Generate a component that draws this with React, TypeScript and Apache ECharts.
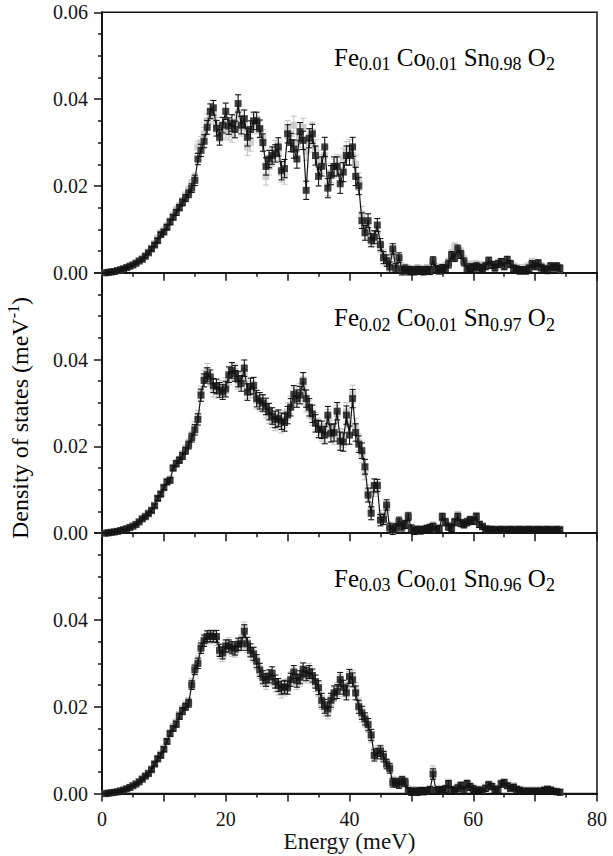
import React, { useEffect, useRef } from "react";
import * as echarts from "echarts";

const energy = [
  0.5, 1, 1.5, 2, 2.5, 3, 3.5, 4, 4.5, 5,
  5.5, 6, 6.5, 7, 7.5, 8, 8.5, 9, 9.5, 10,
  10.5, 11, 11.5, 12, 12.5, 13, 13.5, 14, 14.5, 15,
  15.5, 16, 16.5, 17, 17.5, 18, 18.5, 19, 19.5, 20,
  20.5, 21, 21.5, 22, 22.5, 23, 23.5, 24, 24.5, 25,
  25.5, 26, 26.5, 27, 27.5, 28, 28.5, 29, 29.5, 30,
  30.5, 31, 31.5, 32, 32.5, 33, 33.5, 34, 34.5, 35,
  35.5, 36, 36.5, 37, 37.5, 38, 38.5, 39, 39.5, 40,
  40.5, 41, 41.5, 42, 42.5, 43, 43.5, 44, 44.5, 45,
  45.5, 46, 46.5, 47, 47.5, 48, 48.5, 49, 49.5, 50,
  50.5, 51, 51.5, 52, 52.5, 53, 53.5, 54, 54.5, 55,
  55.5, 56, 56.5, 57, 57.5, 58, 58.5, 59, 59.5, 60,
  60.5, 61, 61.5, 62, 62.5, 63, 63.5, 64, 64.5, 65,
  65.5, 66, 66.5, 67, 67.5, 68, 68.5, 69, 69.5, 70,
  70.5, 71, 71.5, 72, 72.5, 73, 73.5, 74,
];

// Fe0.01 Co0.01 Sn0.98 O2
const blackA = [
  0.0000, 0.0001, 0.0002, 0.0003, 0.0005, 0.0007, 0.0009, 0.0012, 0.0015, 0.0018,
  0.0022, 0.0027, 0.0031, 0.0038, 0.0046, 0.0055, 0.0064, 0.0074, 0.0088, 0.0094,
  0.0105, 0.0117, 0.0128, 0.0139, 0.0150, 0.0162, 0.0172, 0.0182, 0.0195, 0.0213,
  0.0262, 0.0282, 0.0303, 0.0335, 0.0372, 0.0380, 0.0333, 0.0312, 0.0340, 0.0372,
  0.0338, 0.0345, 0.0330, 0.0390, 0.0340, 0.0355, 0.0312, 0.0330, 0.0350, 0.0350,
  0.0332, 0.0300, 0.0245, 0.0262, 0.0270, 0.0275, 0.0290, 0.0235, 0.0240, 0.0320,
  0.0300, 0.0285, 0.0262, 0.0325, 0.0305, 0.0190, 0.0310, 0.0320, 0.0270, 0.0222,
  0.0245, 0.0290, 0.0195, 0.0225, 0.0245, 0.0245, 0.0205, 0.0232, 0.0270, 0.0270,
  0.0290, 0.0222, 0.0200, 0.0120, 0.0092, 0.0120, 0.0075, 0.0082, 0.0110, 0.0065,
  0.0035, 0.0028, 0.0013, 0.0055, 0.0010, 0.0035, 0.0005, 0.0008, 0.0005, 0.0005,
  0.0004, 0.0006, 0.0005, 0.0004, 0.0006, 0.0005, 0.0028, 0.0008, 0.0006, 0.0010,
  0.0008, 0.0020, 0.0040, 0.0035, 0.0055, 0.0042, 0.0025, 0.0008, 0.0012, 0.0010,
  0.0015, 0.0012, 0.0010, 0.0015, 0.0028, 0.0018, 0.0012, 0.0020, 0.0025, 0.0015,
  0.0030, 0.0020, 0.0010, 0.0008, 0.0005, 0.0006, 0.0005, 0.0010, 0.0020, 0.0015,
  0.0022, 0.0012, 0.0008, 0.0006, 0.0015, 0.0012, 0.0015, 0.0010,
];
const greyA = [
  0.0000, 0.0001, 0.0002, 0.0003, 0.0005, 0.0007, 0.0010, 0.0012, 0.0016, 0.0019,
  0.0023, 0.0028, 0.0033, 0.0040, 0.0048, 0.0057, 0.0067, 0.0080, 0.0092, 0.0098,
  0.0108, 0.0120, 0.0133, 0.0145, 0.0155, 0.0165, 0.0178, 0.0190, 0.0205, 0.0218,
  0.0290, 0.0300, 0.0320, 0.0350, 0.0360, 0.0365, 0.0340, 0.0320, 0.0325, 0.0330,
  0.0325, 0.0320, 0.0345, 0.0370, 0.0335, 0.0340, 0.0290, 0.0300, 0.0345, 0.0340,
  0.0330, 0.0310, 0.0222, 0.0245, 0.0265, 0.0285, 0.0280, 0.0230, 0.0225, 0.0330,
  0.0320, 0.0340, 0.0300, 0.0310, 0.0335, 0.0280, 0.0300, 0.0325, 0.0285, 0.0260,
  0.0250, 0.0270, 0.0200, 0.0230, 0.0240, 0.0250, 0.0230, 0.0265, 0.0280, 0.0285,
  0.0270, 0.0250, 0.0210, 0.0135, 0.0105, 0.0095, 0.0080, 0.0075, 0.0090, 0.0060,
  0.0040, 0.0030, 0.0020, 0.0045, 0.0015, 0.0030, 0.0012, 0.0010, 0.0008, 0.0006,
  0.0008, 0.0010, 0.0008, 0.0006, 0.0010, 0.0008, 0.0020, 0.0012, 0.0008, 0.0012,
  0.0015, 0.0025, 0.0045, 0.0060, 0.0050, 0.0048, 0.0030, 0.0015, 0.0018, 0.0015,
  0.0020, 0.0018, 0.0015, 0.0018, 0.0022, 0.0020, 0.0018, 0.0022, 0.0020, 0.0020,
  0.0025, 0.0022, 0.0015, 0.0012, 0.0010, 0.0010, 0.0012, 0.0015, 0.0025, 0.0020,
  0.0018, 0.0015, 0.0012, 0.0010, 0.0012, 0.0015, 0.0012, 0.0010,
];
const errA = [
  0.0001, 0.0001, 0.0001, 0.0001, 0.0001, 0.0001, 0.0001, 0.0001, 0.0001, 0.0001,
  0.0002, 0.0002, 0.0003, 0.0003, 0.0003, 0.0004, 0.0004, 0.0005, 0.0005, 0.0005,
  0.0006, 0.0006, 0.0006, 0.0007, 0.0007, 0.0008, 0.0008, 0.0009, 0.0010, 0.0012,
  0.0013, 0.0014, 0.0015, 0.0016, 0.0017, 0.0017, 0.0018, 0.0018, 0.0018, 0.0019,
  0.0019, 0.0019, 0.0019, 0.0020, 0.0020, 0.0020, 0.0020, 0.0020, 0.0020, 0.0020,
  0.0020, 0.0020, 0.0020, 0.0020, 0.0020, 0.0020, 0.0021, 0.0021, 0.0021, 0.0021,
  0.0021, 0.0021, 0.0021, 0.0021, 0.0021, 0.0021, 0.0022, 0.0022, 0.0022, 0.0022,
  0.0022, 0.0022, 0.0022, 0.0022, 0.0022, 0.0022, 0.0022, 0.0022, 0.0022, 0.0022,
  0.0022, 0.0021, 0.0020, 0.0018, 0.0017, 0.0016, 0.0015, 0.0015, 0.0015, 0.0014,
  0.0014, 0.0013, 0.0012, 0.0012, 0.0011, 0.0011, 0.0010, 0.0010, 0.0010, 0.0009,
  0.0009, 0.0009, 0.0009, 0.0009, 0.0009, 0.0009, 0.0009, 0.0009, 0.0009, 0.0009,
  0.0009, 0.0009, 0.0009, 0.0009, 0.0009, 0.0009, 0.0009, 0.0009, 0.0009, 0.0009,
  0.0008, 0.0008, 0.0008, 0.0008, 0.0008, 0.0008, 0.0008, 0.0008, 0.0008, 0.0008,
  0.0008, 0.0008, 0.0008, 0.0008, 0.0008, 0.0008, 0.0008, 0.0008, 0.0008, 0.0008,
  0.0008, 0.0008, 0.0008, 0.0008, 0.0008, 0.0008, 0.0008, 0.0008,
];

// Fe0.02 Co0.01 Sn0.97 O2
const blackB = [
  0.0000, 0.0001, 0.0002, 0.0003, 0.0004, 0.0006, 0.0008, 0.0010, 0.0013, 0.0016,
  0.0020, 0.0026, 0.0033, 0.0038, 0.0045, 0.0052, 0.0063, 0.0080, 0.0090, 0.0105,
  0.0118, 0.0122, 0.0150, 0.0160, 0.0168, 0.0178, 0.0190, 0.0203, 0.0220, 0.0238,
  0.0262, 0.0318, 0.0352, 0.0365, 0.0360, 0.0340, 0.0338, 0.0330, 0.0325, 0.0332,
  0.0365, 0.0375, 0.0368, 0.0355, 0.0345, 0.0380, 0.0325, 0.0338, 0.0340, 0.0310,
  0.0305, 0.0300, 0.0292, 0.0280, 0.0270, 0.0262, 0.0265, 0.0258, 0.0255, 0.0272,
  0.0290, 0.0320, 0.0310, 0.0318, 0.0350, 0.0310, 0.0290, 0.0275, 0.0253, 0.0240,
  0.0238, 0.0226, 0.0272, 0.0230, 0.0232, 0.0281, 0.0212, 0.0210, 0.0272, 0.0226,
  0.0310, 0.0232, 0.0205, 0.0190, 0.0153, 0.0088, 0.0046, 0.0110, 0.0110, 0.0030,
  0.0032, 0.0065, 0.0012, 0.0008, 0.0012, 0.0027, 0.0015, 0.0020, 0.0038, 0.0010,
  0.0005, 0.0008, 0.0006, 0.0008, 0.0010, 0.0012, 0.0015, 0.0008, 0.0010, 0.0038,
  0.0025, 0.0015, 0.0012, 0.0025, 0.0038, 0.0023, 0.0020, 0.0025, 0.0030, 0.0028,
  0.0038, 0.0020, 0.0015, 0.0010, 0.0009, 0.0009, 0.0008, 0.0008, 0.0009, 0.0008,
  0.0008, 0.0009, 0.0008, 0.0008, 0.0009, 0.0008, 0.0008, 0.0009, 0.0008, 0.0008,
  0.0009, 0.0008, 0.0008, 0.0009, 0.0008, 0.0008, 0.0009, 0.0008,
];
const greyB = [
  0.0000, 0.0001, 0.0002, 0.0003, 0.0005, 0.0007, 0.0009, 0.0011, 0.0014, 0.0017,
  0.0021, 0.0027, 0.0034, 0.0040, 0.0047, 0.0055, 0.0065, 0.0082, 0.0092, 0.0108,
  0.0120, 0.0125, 0.0152, 0.0162, 0.0170, 0.0182, 0.0195, 0.0208, 0.0225, 0.0245,
  0.0270, 0.0325, 0.0360, 0.0375, 0.0355, 0.0330, 0.0328, 0.0335, 0.0330, 0.0340,
  0.0360, 0.0368, 0.0372, 0.0350, 0.0352, 0.0370, 0.0330, 0.0332, 0.0330, 0.0305,
  0.0300, 0.0298, 0.0285, 0.0272, 0.0262, 0.0255, 0.0262, 0.0250, 0.0262, 0.0280,
  0.0295, 0.0315, 0.0320, 0.0325, 0.0340, 0.0300, 0.0285, 0.0268, 0.0258, 0.0245,
  0.0232, 0.0230, 0.0265, 0.0240, 0.0225, 0.0275, 0.0220, 0.0218, 0.0280, 0.0250,
  0.0320, 0.0245, 0.0210, 0.0180, 0.0140, 0.0095, 0.0055, 0.0100, 0.0105, 0.0040,
  0.0035, 0.0060, 0.0015, 0.0010, 0.0015, 0.0025, 0.0018, 0.0022, 0.0040, 0.0012,
  0.0008, 0.0010, 0.0008, 0.0010, 0.0012, 0.0015, 0.0018, 0.0010, 0.0012, 0.0035,
  0.0028, 0.0018, 0.0015, 0.0028, 0.0042, 0.0025, 0.0022, 0.0028, 0.0032, 0.0030,
  0.0040, 0.0022, 0.0018, 0.0012, 0.0010, 0.0010, 0.0010, 0.0010, 0.0010, 0.0010,
  0.0010, 0.0010, 0.0010, 0.0010, 0.0010, 0.0010, 0.0010, 0.0010, 0.0010, 0.0010,
  0.0010, 0.0010, 0.0010, 0.0010, 0.0010, 0.0010, 0.0010, 0.0010,
];
const errB = [
  0.0001, 0.0001, 0.0001, 0.0001, 0.0001, 0.0001, 0.0001, 0.0001, 0.0001, 0.0001,
  0.0002, 0.0002, 0.0003, 0.0003, 0.0003, 0.0004, 0.0004, 0.0005, 0.0005, 0.0005,
  0.0006, 0.0006, 0.0006, 0.0007, 0.0007, 0.0008, 0.0008, 0.0009, 0.0010, 0.0012,
  0.0013, 0.0014, 0.0015, 0.0016, 0.0016, 0.0016, 0.0017, 0.0017, 0.0017, 0.0018,
  0.0018, 0.0018, 0.0018, 0.0018, 0.0018, 0.0019, 0.0019, 0.0019, 0.0019, 0.0019,
  0.0019, 0.0019, 0.0019, 0.0019, 0.0019, 0.0019, 0.0019, 0.0019, 0.0020, 0.0020,
  0.0020, 0.0020, 0.0020, 0.0020, 0.0020, 0.0020, 0.0020, 0.0020, 0.0020, 0.0020,
  0.0020, 0.0020, 0.0020, 0.0020, 0.0020, 0.0020, 0.0021, 0.0021, 0.0021, 0.0021,
  0.0021, 0.0020, 0.0019, 0.0018, 0.0017, 0.0016, 0.0015, 0.0015, 0.0014, 0.0013,
  0.0012, 0.0012, 0.0011, 0.0011, 0.0010, 0.0010, 0.0010, 0.0009, 0.0009, 0.0009,
  0.0008, 0.0008, 0.0008, 0.0008, 0.0008, 0.0008, 0.0008, 0.0008, 0.0008, 0.0008,
  0.0008, 0.0008, 0.0008, 0.0008, 0.0008, 0.0008, 0.0008, 0.0008, 0.0008, 0.0008,
  0.0008, 0.0007, 0.0006, 0.0005, 0.0004, 0.0004, 0.0004, 0.0004, 0.0004, 0.0004,
  0.0004, 0.0004, 0.0004, 0.0004, 0.0004, 0.0004, 0.0004, 0.0004, 0.0004, 0.0004,
  0.0004, 0.0004, 0.0004, 0.0004, 0.0004, 0.0004, 0.0004, 0.0004,
];

// Fe0.03 Co0.01 Sn0.96 O2
const blackC = [
  0.0000, 0.0001, 0.0002, 0.0003, 0.0004, 0.0006, 0.0008, 0.0011, 0.0014, 0.0018,
  0.0022, 0.0027, 0.0033, 0.0040, 0.0046, 0.0055, 0.0068, 0.0080, 0.0088, 0.0102,
  0.0120, 0.0138, 0.0150, 0.0160, 0.0178, 0.0190, 0.0200, 0.0208, 0.0250, 0.0285,
  0.0300, 0.0335, 0.0352, 0.0362, 0.0363, 0.0362, 0.0362, 0.0330, 0.0324, 0.0340,
  0.0340, 0.0336, 0.0333, 0.0344, 0.0345, 0.0374, 0.0345, 0.0330, 0.0322, 0.0305,
  0.0285, 0.0268, 0.0262, 0.0270, 0.0277, 0.0258, 0.0250, 0.0244, 0.0246, 0.0244,
  0.0262, 0.0280, 0.0260, 0.0268, 0.0286, 0.0275, 0.0280, 0.0272, 0.0258, 0.0244,
  0.0215, 0.0201, 0.0195, 0.0215, 0.0232, 0.0235, 0.0263, 0.0245, 0.0232, 0.0270,
  0.0262, 0.0232, 0.0200, 0.0186, 0.0172, 0.0159, 0.0135, 0.0088, 0.0092, 0.0098,
  0.0085, 0.0068, 0.0058, 0.0025, 0.0025, 0.0022, 0.0030, 0.0025, 0.0006, 0.0004,
  0.0005, 0.0004, 0.0006, 0.0005, 0.0006, 0.0008, 0.0045, 0.0006, 0.0008, 0.0008,
  0.0010, 0.0022, 0.0008, 0.0006, 0.0012, 0.0018, 0.0008, 0.0022, 0.0015, 0.0010,
  0.0006, 0.0008, 0.0005, 0.0012, 0.0020, 0.0016, 0.0010, 0.0008, 0.0022, 0.0025,
  0.0018, 0.0012, 0.0015, 0.0010, 0.0008, 0.0006, 0.0005, 0.0006, 0.0005, 0.0006,
  0.0005, 0.0006, 0.0008, 0.0010, 0.0008, 0.0005, 0.0004, 0.0003,
];
const greyC = [
  0.0000, 0.0001, 0.0002, 0.0003, 0.0005, 0.0007, 0.0009, 0.0012, 0.0015, 0.0019,
  0.0023, 0.0028, 0.0035, 0.0042, 0.0048, 0.0058, 0.0070, 0.0082, 0.0092, 0.0105,
  0.0122, 0.0140, 0.0155, 0.0165, 0.0182, 0.0195, 0.0205, 0.0212, 0.0255, 0.0290,
  0.0305, 0.0340, 0.0355, 0.0360, 0.0358, 0.0360, 0.0355, 0.0325, 0.0318, 0.0335,
  0.0345, 0.0330, 0.0328, 0.0340, 0.0350, 0.0380, 0.0340, 0.0322, 0.0318, 0.0300,
  0.0280, 0.0262, 0.0255, 0.0265, 0.0270, 0.0250, 0.0242, 0.0235, 0.0240, 0.0250,
  0.0265, 0.0275, 0.0255, 0.0262, 0.0280, 0.0270, 0.0285, 0.0268, 0.0250, 0.0240,
  0.0210, 0.0195, 0.0188, 0.0210, 0.0228, 0.0240, 0.0258, 0.0240, 0.0238, 0.0265,
  0.0268, 0.0240, 0.0205, 0.0180, 0.0168, 0.0155, 0.0130, 0.0092, 0.0098, 0.0100,
  0.0088, 0.0070, 0.0060, 0.0030, 0.0028, 0.0025, 0.0032, 0.0028, 0.0010, 0.0008,
  0.0008, 0.0006, 0.0008, 0.0008, 0.0008, 0.0010, 0.0052, 0.0010, 0.0010, 0.0010,
  0.0012, 0.0025, 0.0010, 0.0010, 0.0015, 0.0020, 0.0012, 0.0025, 0.0018, 0.0012,
  0.0010, 0.0010, 0.0008, 0.0015, 0.0022, 0.0018, 0.0012, 0.0012, 0.0025, 0.0028,
  0.0020, 0.0015, 0.0018, 0.0012, 0.0010, 0.0008, 0.0008, 0.0008, 0.0008, 0.0008,
  0.0008, 0.0008, 0.0010, 0.0012, 0.0010, 0.0008, 0.0006, 0.0005,
];
const errC = [
  0.0001, 0.0001, 0.0001, 0.0001, 0.0001, 0.0001, 0.0001, 0.0001, 0.0001, 0.0001,
  0.0002, 0.0002, 0.0003, 0.0003, 0.0003, 0.0004, 0.0004, 0.0005, 0.0005, 0.0005,
  0.0006, 0.0006, 0.0006, 0.0007, 0.0007, 0.0008, 0.0008, 0.0009, 0.0010, 0.0011,
  0.0012, 0.0012, 0.0013, 0.0013, 0.0013, 0.0013, 0.0014, 0.0014, 0.0014, 0.0014,
  0.0014, 0.0014, 0.0014, 0.0014, 0.0015, 0.0015, 0.0015, 0.0015, 0.0015, 0.0015,
  0.0015, 0.0015, 0.0015, 0.0015, 0.0015, 0.0015, 0.0015, 0.0015, 0.0015, 0.0015,
  0.0015, 0.0015, 0.0015, 0.0015, 0.0015, 0.0015, 0.0015, 0.0015, 0.0015, 0.0016,
  0.0016, 0.0016, 0.0016, 0.0016, 0.0016, 0.0016, 0.0016, 0.0016, 0.0016, 0.0016,
  0.0016, 0.0016, 0.0015, 0.0015, 0.0014, 0.0014, 0.0013, 0.0013, 0.0012, 0.0012,
  0.0012, 0.0011, 0.0011, 0.0010, 0.0010, 0.0010, 0.0009, 0.0009, 0.0008, 0.0008,
  0.0008, 0.0008, 0.0008, 0.0008, 0.0008, 0.0008, 0.0012, 0.0008, 0.0008, 0.0008,
  0.0008, 0.0008, 0.0008, 0.0008, 0.0008, 0.0008, 0.0008, 0.0008, 0.0008, 0.0008,
  0.0007, 0.0007, 0.0007, 0.0007, 0.0007, 0.0007, 0.0007, 0.0007, 0.0007, 0.0007,
  0.0006, 0.0006, 0.0006, 0.0006, 0.0006, 0.0006, 0.0006, 0.0006, 0.0006, 0.0006,
  0.0006, 0.0006, 0.0006, 0.0006, 0.0006, 0.0006, 0.0006, 0.0006,
];

const fractions = [
  ["0.01", "0.01", "0.98"],
  ["0.02", "0.01", "0.97"],
  ["0.03", "0.01", "0.96"],
];
const xTicks = { min: 0, max: 80, interval: 10 };
const yTicks = { min: 0, max: 0.06, interval: 0.02 };

const FONT = "'Liberation Serif', 'Times New Roman', serif";
const INK = "#141414";
const GREY = "#c6c6c6";

const gridTops = [12.3, 272.7, 533.1];
const gridH = 260.5;

function errRender(color: string) {
  return (params: any, api: any) => {
    const x = api.value(0);
    const lo = api.value(1);
    const hi = api.value(2);
    const p1 = api.coord([x, hi]);
    const p2 = api.coord([x, lo]);
    const w = 3;
    const style = { stroke: color, lineWidth: 1.1 };
    return {
      type: "group",
      children: [
        { type: "line", shape: { x1: p1[0], y1: p1[1], x2: p2[0], y2: p2[1] }, style },
        { type: "line", shape: { x1: p1[0] - w, y1: p1[1], x2: p1[0] + w, y2: p1[1] }, style },
        { type: "line", shape: { x1: p2[0] - w, y1: p2[1], x2: p2[0] + w, y2: p2[1] }, style },
      ],
    };
  };
}

export default function App() {
  const ref = useRef<HTMLDivElement>(null);
  useEffect(() => {
    const chart = echarts.init(ref.current!, null, { renderer: "svg" });
    const panels = [
      { black: blackA, grey: greyA, err: errA },
      { black: blackB, grey: greyB, err: errB },
      { black: blackC, grey: greyC, err: errC },
    ];

    const grids = gridTops.map((t) => ({
      left: 102,
      width: 495,
      top: t,
      height: gridH,
      show: true,
      borderColor: INK,
      borderWidth: 1.5,
      backgroundColor: "transparent",
    }));

    const xAxes = gridTops.map((_, i) => ({
      type: "value",
      gridIndex: i,
      min: xTicks.min,
      max: xTicks.max,
      interval: xTicks.interval,
      axisLine: { show: true, onZero: false, lineStyle: { color: INK, width: 2 } },
      axisTick: { show: true, length: 8, lineStyle: { color: INK, width: 1.5 } },
      minorTick: { show: true, splitNumber: 2, length: 4, lineStyle: { color: INK, width: 1.5 } },
      splitLine: { show: false },
      axisLabel: {
        show: i === 2,
        margin: 15,
        fontFamily: FONT,
        fontSize: 20,
        color: INK,
        formatter: (v: number) => (v % 20 === 0 ? String(v) : ""),
      },
      name: i === 2 ? "Energy (meV)" : "",
      nameLocation: "middle",
      nameGap: 33,
      nameTextStyle: { fontFamily: FONT, fontSize: 23, color: INK },
    }));

    const yAxes = gridTops.map((_, i) => ({
      type: "value",
      gridIndex: i,
      min: yTicks.min,
      max: yTicks.max,
      interval: yTicks.interval,
      axisLine: { show: true, onZero: false, lineStyle: { color: INK, width: 2 } },
      axisTick: { show: true, length: 8, lineStyle: { color: INK, width: 1.5 } },
      minorTick: { show: true, splitNumber: 4, length: 4, lineStyle: { color: INK, width: 1.5 } },
      splitLine: { show: false },
      axisLabel: {
        margin: 14,
        fontFamily: FONT,
        fontSize: 20,
        color: INK,
        showMaxLabel: i === 0,
        formatter: (v: number) => v.toFixed(2),
      },
    }));

    const series: any[] = [];
    panels.forEach((p, i) => {
      const common = { xAxisIndex: i, yAxisIndex: i };
      series.push({
        ...common,
        type: "custom",
        z: 1,
        renderItem: errRender(GREY),
        encode: { x: 0, y: [1, 2] },
        data: energy.map((e, k) => [e, p.grey[k] - p.err[k], p.grey[k] + p.err[k]]),
        silent: true,
      });
      series.push({
        ...common,
        type: "scatter",
        z: 2,
        symbol: "rect",
        symbolSize: 7,
        itemStyle: { color: GREY },
        data: energy.map((e, k) => [e, p.grey[k]]),
        silent: true,
      });
      series.push({
        ...common,
        type: "line",
        z: 3,
        showSymbol: false,
        lineStyle: { color: INK, width: 1.2 },
        data: energy.map((e, k) => [e, p.black[k]]),
        silent: true,
      });
      series.push({
        ...common,
        type: "custom",
        z: 4,
        renderItem: errRender(INK),
        encode: { x: 0, y: [1, 2] },
        data: energy.map((e, k) => [e, p.black[k] - p.err[k], p.black[k] + p.err[k]]),
        silent: true,
      });
      series.push({
        ...common,
        type: "scatter",
        z: 5,
        symbol: "rect",
        symbolSize: 7,
        itemStyle: { color: INK },
        data: energy.map((e, k) => [e, p.black[k]]),
        silent: true,
      });
    });

    const rich = {
      m: { fontFamily: FONT, fontSize: 25, color: INK, lineHeight: 32, verticalAlign: "middle" },
      s: { fontFamily: FONT, fontSize: 18, color: INK, lineHeight: 20, verticalAlign: "bottom" },
    };
    const labels = fractions.map((f, i) => ({
      type: "text",
      x: 334,
      y: gridTops[i] + 45,
      style: {
        text: `{m|Fe}{s|${f[0]}}{m| Co}{s|${f[1]}}{m| Sn}{s|${f[2]}}{m| O}{s|2}`,
        rich,
        textVerticalAlign: "middle",
        textAlign: "left",
      },
    }));

    const yTitle = {
      type: "text",
      x: 20,
      y: 418,
      rotation: Math.PI / 2,
      style: {
        text: "{t|Density of states (meV}{u|-1}{t|)}",
        rich: {
          t: { fontFamily: FONT, fontSize: 24, color: INK, lineHeight: 30, verticalAlign: "middle" },
          u: { fontFamily: FONT, fontSize: 16, color: INK, lineHeight: 18, verticalAlign: "top" },
        },
        textAlign: "center",
        textVerticalAlign: "middle",
      },
    };

    chart.setOption({
      animation: false,
      backgroundColor: "#fff",
      grid: grids,
      xAxis: xAxes,
      yAxis: yAxes,
      series,
      graphic: [...labels, yTitle],
    });
    return () => chart.dispose();
  }, []);
  return (
    <div
      ref={ref}
      style={{ position: "absolute", left: 0, top: 0, width: 613, height: 856, background: "#fff" }}
    />
  );
}
